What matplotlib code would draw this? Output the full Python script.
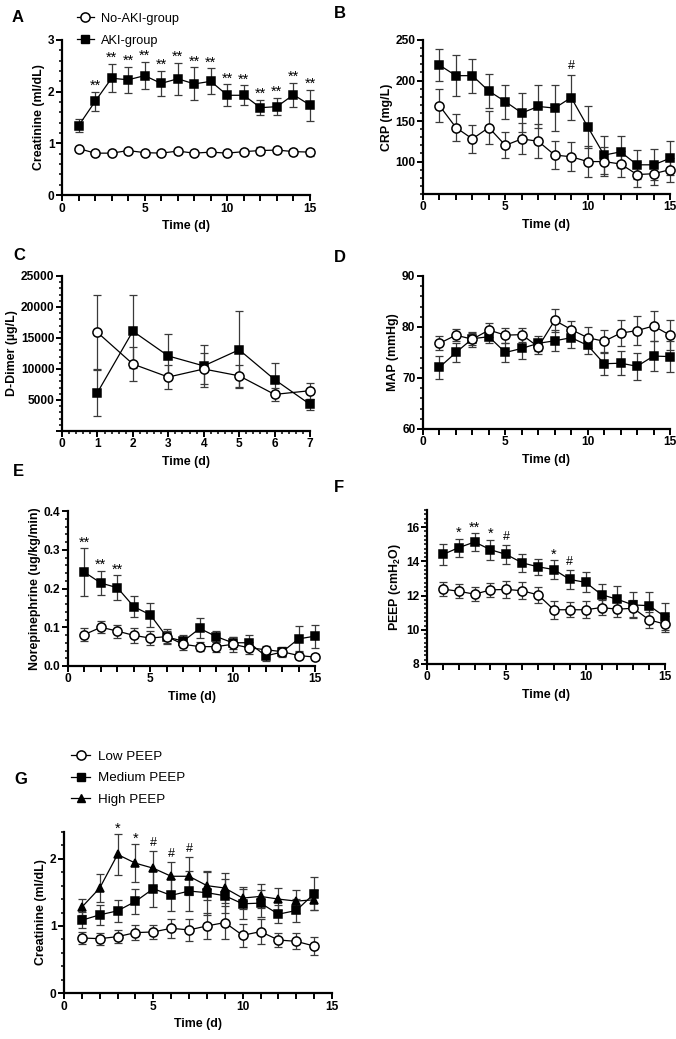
import matplotlib
matplotlib.use("Agg")
import matplotlib.pyplot as plt
from matplotlib.ticker import MultipleLocator, FuncFormatter, FixedLocator
from matplotlib.lines import Line2D

plt.rcParams['font.family'] = ['Liberation Sans', 'DejaVu Sans']
plt.rcParams['mathtext.fontset'] = 'custom'
plt.rcParams['mathtext.rm'] = 'Liberation Sans:bold'
plt.rcParams['mathtext.it'] = 'Liberation Sans:bold'
plt.rcParams['mathtext.bf'] = 'Liberation Sans:bold'

# ---------------- DATA ----------------
days15 = list(range(1, 16))
days7 = list(range(1, 8))
days14 = list(range(1, 15))

# A: Creatinine
a_noaki = [0.90, 0.81, 0.81, 0.86, 0.82, 0.81, 0.85, 0.81, 0.83, 0.81, 0.84, 0.86, 0.87, 0.84, 0.83]
a_noaki_err = [0.03, 0.03, 0.03, 0.04, 0.03, 0.03, 0.05, 0.03, 0.03, 0.03, 0.04, 0.06, 0.06, 0.06, 0.07]
a_aki = [1.34, 1.81, 2.26, 2.23, 2.31, 2.16, 2.25, 2.15, 2.20, 1.93, 1.93, 1.69, 1.71, 1.94, 1.74]
a_aki_err = [0.13, 0.19, 0.27, 0.25, 0.26, 0.24, 0.31, 0.32, 0.25, 0.21, 0.19, 0.15, 0.17, 0.23, 0.30]
a_marks = ['', '**', '**', '**', '**', '**', '**', '**', '**', '**', '**', '**', '**', '**', '**']

# B: CRP
b_noaki = [169, 142, 128, 142, 120, 128, 125, 108, 106, 100, 100, 97, 84, 85, 90]
b_noaki_err = [20, 17, 17, 20, 16, 19, 21, 17, 18, 19, 18, 16, 15, 14, 15]
b_aki = [219, 206, 206, 187, 174, 160, 168, 166, 179, 143, 108, 112, 96, 96, 104]
b_aki_err = [20, 25, 21, 21, 21, 24, 26, 28, 28, 26, 23, 20, 18, 19, 21]
b_marks = ['', '', '', '', '', '', '', '', '#', '', '', '', '', '', '']

# C: D-Dimer
c_noaki = [15900, 10800, 8700, 10000, 8900, 5900, 6500]
c_noaki_err = [6000, 2700, 1900, 2500, 1800, 1000, 1300]
c_aki = [6200, 16100, 12100, 10500, 13100, 8300, 4300]
c_aki_err = [3800, 5900, 3600, 3400, 6200, 2700, 900]

# D: MAP
d_noaki = [76.8, 78.4, 77.6, 79.4, 78.4, 78.5, 76.1, 81.3, 79.5, 77.9, 77.2, 78.8, 79.3, 80.2, 78.4]
d_noaki_err = [1.4, 1.2, 1.5, 1.4, 1.5, 1.4, 1.4, 2.2, 1.6, 2.1, 2.3, 2.6, 2.9, 2.9, 3.0]
d_aki = [72.1, 75.0, 77.7, 78.1, 75.0, 75.8, 76.8, 77.3, 77.9, 76.4, 72.8, 72.9, 72.3, 74.3, 74.2]
d_aki_err = [2.3, 1.8, 1.2, 1.3, 1.8, 2.1, 1.5, 2.1, 2.0, 1.7, 2.3, 2.4, 2.6, 3.0, 3.1]

# E: Norepinephrine
e_noaki = [0.081, 0.100, 0.090, 0.079, 0.072, 0.076, 0.056, 0.050, 0.050, 0.056, 0.047, 0.042, 0.037, 0.027, 0.023]
e_noaki_err = [0.017, 0.015, 0.017, 0.019, 0.019, 0.020, 0.014, 0.012, 0.013, 0.020, 0.015, 0.010, 0.012, 0.010, 0.007]
e_aki = [0.242, 0.214, 0.202, 0.153, 0.132, 0.075, 0.064, 0.097, 0.076, 0.060, 0.060, 0.026, 0.036, 0.070, 0.077]
e_aki_err = [0.062, 0.032, 0.032, 0.027, 0.031, 0.016, 0.016, 0.026, 0.015, 0.016, 0.020, 0.013, 0.012, 0.032, 0.030]
e_marks = ['**', '**', '**', '', '', '', '', '', '', '', '', '', '', '', '']

# F: PEEP
f_noaki = [12.38, 12.25, 12.08, 12.33, 12.36, 12.28, 12.04, 11.17, 11.17, 11.17, 11.30, 11.20, 11.26, 10.58, 10.33]
f_noaki_err = [0.43, 0.40, 0.40, 0.42, 0.48, 0.50, 0.48, 0.54, 0.45, 0.50, 0.45, 0.45, 0.50, 0.45, 0.45]
f_aki = [14.40, 14.80, 15.13, 14.68, 14.40, 13.91, 13.68, 13.52, 12.94, 12.77, 12.05, 11.78, 11.45, 11.41, 10.76]
f_aki_err = [0.60, 0.52, 0.52, 0.58, 0.58, 0.54, 0.46, 0.54, 0.54, 0.58, 0.62, 0.77, 0.78, 0.80, 0.80]
f_marks = ['', '*', '**', '*', '#', '', '', '*', '#', '', '', '', '', '', '']

# G: Creatinine by PEEP group
g_low = [0.82, 0.81, 0.84, 0.90, 0.91, 0.965, 0.94, 1.00, 1.05, 0.86, 0.915, 0.79, 0.77, 0.70]
g_low_err = [0.09, 0.09, 0.10, 0.11, 0.10, 0.14, 0.17, 0.20, 0.24, 0.17, 0.19, 0.11, 0.12, 0.13]
g_med = [1.085, 1.165, 1.225, 1.365, 1.555, 1.455, 1.52, 1.495, 1.45, 1.33, 1.34, 1.175, 1.23, 1.48]
g_med_err = [0.12, 0.15, 0.16, 0.18, 0.27, 0.24, 0.30, 0.33, 0.25, 0.22, 0.20, 0.13, 0.17, 0.25]
g_high = [1.28, 1.565, 2.065, 1.935, 1.86, 1.74, 1.74, 1.60, 1.565, 1.415, 1.44, 1.40, 1.37, 1.39]
g_high_err = [0.12, 0.21, 0.30, 0.28, 0.26, 0.22, 0.28, 0.21, 0.22, 0.17, 0.18, 0.17, 0.17, 0.15]
g_marks = ['', '', '*', '*', '#', '#', '#', '', '', '', '', '', '', '']

# ---------------- FIGURE ----------------
W, H = 676, 1039
fig = plt.figure(figsize=(W / 100, H / 100), dpi=100)


def add_ax(l, t, r, b):
    return fig.add_axes([l / W, 1 - b / H, (r - l) / W, (b - t) / H])


TICKFS = 8.6
LABFS = 8.9


def style(ax, xlim, ylim, xmaj, xlab_every, ymaj, ymin, xminor=None,
          ylabel='', yfmt=None, hide_ylabels=()):
    ax.set_xlim(*xlim)
    ax.set_ylim(*ylim)
    for s in ['top', 'right']:
        ax.spines[s].set_visible(False)
    for s in ['left', 'bottom']:
        ax.spines[s].set_linewidth(1.6)
    ax.xaxis.set_major_locator(MultipleLocator(xmaj))
    ax.xaxis.set_major_formatter(FuncFormatter(
        lambda v, p: ('%d' % round(v)) if abs(v / xlab_every - round(v / xlab_every)) < 1e-6 else ''))
    if xminor:
        ax.xaxis.set_minor_locator(MultipleLocator(xminor))
    ax.yaxis.set_major_locator(MultipleLocator(ymaj))
    ax.yaxis.set_minor_locator(MultipleLocator(ymin))

    def yf(v, p):
        for h in hide_ylabels:
            if abs(v - h) < 1e-9:
                return ''
        if yfmt:
            return yfmt % v
        return '%d' % round(v)
    ax.yaxis.set_major_formatter(FuncFormatter(yf))
    ax.tick_params(which='major', direction='out', length=4.2, width=1.4,
                   labelsize=TICKFS, pad=1.2)
    ax.tick_params(which='minor', direction='out', length=2.4, width=1.1)
    for lab in ax.get_xticklabels() + ax.get_yticklabels():
        lab.set_fontweight('bold')
    ax.set_xlabel('Time (d)', fontsize=LABFS, fontweight='bold', labelpad=4)
    ax.set_ylabel(ylabel, fontsize=LABFS, fontweight='bold', labelpad=2)


def series(ax, x, y, e, kind):
    if kind == 'circle':
        mk, ms, mfc = 'o', 6.6, 'white'
    elif kind == 'square':
        mk, ms, mfc = 's', 5.4, 'black'
    else:
        mk, ms, mfc = '^', 5.4, 'black'
    ax.errorbar(x, y, yerr=e, fmt='none', ecolor='#3a3a3a', elinewidth=0.9,
                capsize=3.0, capthick=0.9, zorder=2, clip_on=False)
    ax.plot(x, y, color='black', lw=0.9, marker=mk, ms=ms, mfc=mfc,
            mec='black', mew=1.1, zorder=3 if kind != 'circle' else 4, clip_on=False)


def marks(ax, x, y, e, labels, off, fs_star=10.5, fs_hash=9):
    for xi, yi, ei, lab in zip(x, y, e, labels):
        if not lab:
            continue
        if lab == '#':
            ax.text(xi, yi + ei + off, lab, ha='center', va='bottom', fontsize=fs_hash)
        else:
            ax.text(xi, yi + ei - off * 0.6, lab, ha='center', va='bottom', fontsize=fs_star)


# Panel A
axA = add_ax(62, 40, 310, 195)
series(axA, days15, a_noaki, a_noaki_err, 'circle')
series(axA, days15, a_aki, a_aki_err, 'square')
marks(axA, days15, a_aki, a_aki_err, a_marks, 0.03)
style(axA, (0, 15), (0, 3), 1, 5, 1, 0.2, ylabel='Creatinine (ml/dL)')

# Panel B
axB = add_ax(423, 40, 670, 194)
series(axB, days15, b_noaki, b_noaki_err, 'circle')
series(axB, days15, b_aki, b_aki_err, 'square')
marks(axB, days15, b_aki, b_aki_err, b_marks, 3)
style(axB, (0, 15), (60, 250), 1, 5, 50, 10, ylabel='CRP (mg/L)')
axB.yaxis.set_major_locator(FixedLocator([100, 150, 200, 250]))

# Panel C
axC = add_ax(62, 276, 310, 431)
series(axC, days7, c_noaki, c_noaki_err, 'circle')
series(axC, days7, c_aki, c_aki_err, 'square')
style(axC, (0, 7), (0, 25000), 1, 1, 5000, 1000, xminor=0.2,
      ylabel='D-Dimer (µg/L)', hide_ylabels=(0,))

# Panel D
axD = add_ax(423, 276, 670, 429)
series(axD, days15, d_noaki, d_noaki_err, 'circle')
series(axD, days15, d_aki, d_aki_err, 'square')
style(axD, (0, 15), (60, 90), 1, 5, 10, 2, ylabel='MAP (mmHg)')

# Panel E
axE = add_ax(68, 511, 315, 666)
series(axE, days15, e_noaki, e_noaki_err, 'circle')
series(axE, days15, e_aki, e_aki_err, 'square')
marks(axE, days15, e_aki, e_aki_err, e_marks, 0.005)
style(axE, (0, 15), (0, 0.4), 1, 5, 0.1, 0.02, ylabel='Norepinephrine (ug/kg/min)',
      yfmt='%.1f')

# Panel F
axF = add_ax(427, 510, 665, 664)
series(axF, days15, f_noaki, f_noaki_err, 'circle')
series(axF, days15, f_aki, f_aki_err, 'square')
marks(axF, days15, f_aki, f_aki_err, f_marks, 0.12)
style(axF, (0, 15), (8, 17), 1, 5, 2, 0.25, ylabel=r'PEEP (cmH$_\mathrm{2}$O)')
axF.yaxis.set_major_locator(FixedLocator([8, 10, 12, 14, 16]))

# Panel G
axG = add_ax(64, 832, 332, 993)
series(axG, days14, g_low, g_low_err, 'circle')
series(axG, days14, g_med, g_med_err, 'square')
series(axG, days14, g_high, g_high_err, 'triangle')
marks(axG, days14, g_high, g_high_err, g_marks, 0.03)
style(axG, (0, 15), (0, 2.4), 1, 5, 1, 0.2, ylabel='Creatinine (ml/dL)')

# Legends
def handle(kind):
    if kind == 'circle':
        return Line2D([], [], color='black', lw=0.9, marker='o', ms=6.6, mfc='white', mec='black', mew=1.1)
    if kind == 'square':
        return Line2D([], [], color='black', lw=0.9, marker='s', ms=5.4, mfc='black', mec='black')
    return Line2D([], [], color='black', lw=0.9, marker='^', ms=5.4, mfc='black', mec='black')


fig.legend([handle('circle'), handle('square')], ['No-AKI-group', 'AKI-group'],
           loc='upper left', bbox_to_anchor=(68 / W, 1 - 4 / H), frameon=False,
           fontsize=9.2, handlelength=1.3, handletextpad=0.6, labelspacing=0.75,
           borderpad=0.2)
fig.legend([handle('circle'), handle('square'), handle('triangle')],
           ['Low PEEP', 'Medium PEEP', 'High PEEP'],
           loc='upper left', bbox_to_anchor=(62 / W, 1 - 741 / H), frameon=False,
           fontsize=9.6, handlelength=1.4, handletextpad=0.6, labelspacing=0.7,
           borderpad=0.2)

# Panel letters
for lab, x, y in [('A', 12, 17), ('B', 334, 14), ('C', 13, 255), ('D', 334, 257),
                  ('E', 13, 472), ('F', 334, 487), ('G', 14, 780)]:
    fig.text(x / W, 1 - y / H, lab, fontsize=12, fontweight='bold', ha='left', va='center')

fig.savefig('out.png', dpi=100)
